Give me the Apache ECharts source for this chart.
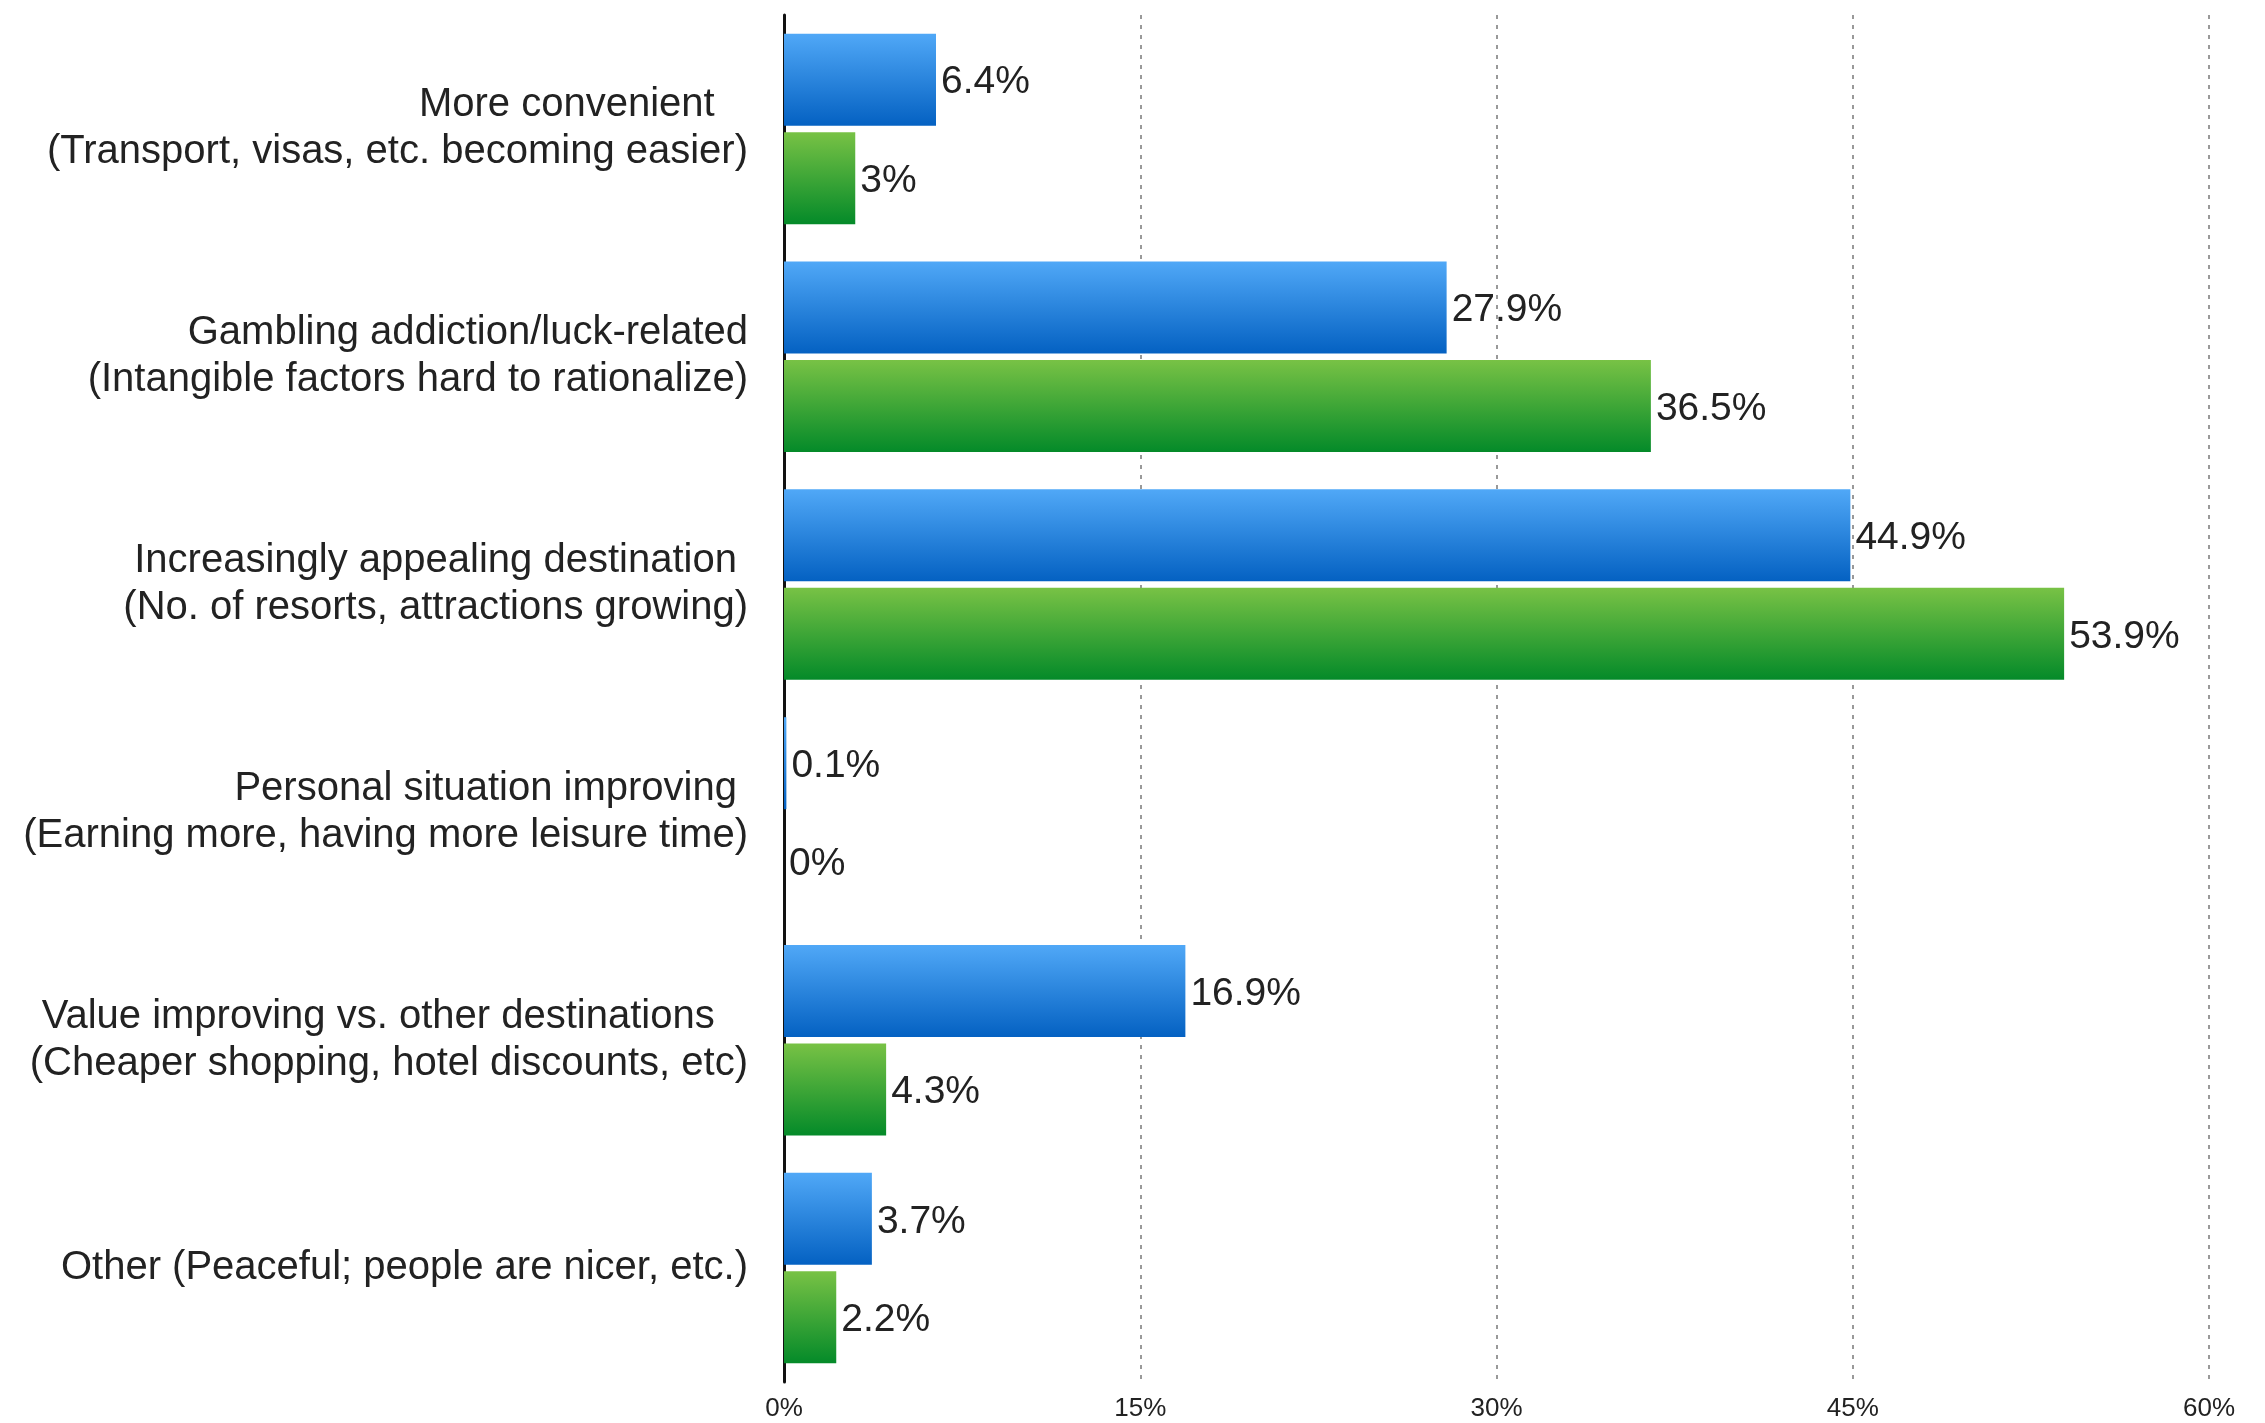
<!DOCTYPE html>
<html>
<head>
<meta charset="utf-8">
<script src="https://cdn.jsdelivr.net/npm/echarts@6/dist/echarts.min.js"></script>
<style>
html,body{margin:0;padding:0;background:#fff;}
#chart{width:2265px;height:1423px;}
</style>
</head>
<body>
<div id="chart"></div>
<script>
const categories = [
  "More convenient\u00a0\u00a0\u00a0\n(Transport, visas, etc. becoming easier)",
  "Gambling addiction/luck-related\n(Intangible factors hard to rationalize)",
  "Increasingly appealing destination\u00a0\n(No. of resorts, attractions growing)",
  "Personal situation improving\u00a0\n(Earning more, having more leisure time)",
  "Value improving vs. other destinations\u00a0\u00a0\u00a0\n(Cheaper shopping, hotel discounts, etc)",
  "Other (Peaceful; people are nicer, etc.)"
];
const seriesBlue = [6.4, 27.9, 44.9, 0.1, 16.9, 3.7];
const seriesGreen = [3, 36.5, 53.9, 0, 4.3, 2.2];
const xTicks = [0, 15, 30, 45, 60];

const FONT = "'Liberation Sans', Arial, sans-serif";
const chart = echarts.init(document.getElementById('chart'));
function grad(top, bottom){
  return new echarts.graphic.LinearGradient(0,0,0,1,[{offset:0,color:top},{offset:1,color:bottom}]);
}
const labelCfg = {
  show: true, position: 'right', distance: 5,
  formatter: p => p.value + '%',
  fontFamily: FONT, fontWeight: 'normal', fontSize: 39, color: '#222',
  offset: [0, 3]
};
chart.setOption({
  animation: false,
  backgroundColor: '#fff',
  grid: {left: 784, right: 56, top: 15, bottom: 41, containLabel: false},
  xAxis: {
    type: 'value', min: xTicks[0], max: xTicks[xTicks.length-1], interval: 15,
    axisLine: {show: false},
    axisTick: {show: false},
    splitLine: {show: true, lineStyle: {color: '#999', width: 2, type: [4, 6]}},
    axisLabel: {
      formatter: v => v + '%', fontFamily: FONT, fontSize: 26,
      color: '#222', margin: 14,
      showMinLabel: true, showMaxLabel: true
    }
  },
  yAxis: {
    type: 'category', data: categories, inverse: true,
    axisLine: {show: true, lineStyle: {color: '#111', width: 3}},
    axisTick: {show: false},
    axisLabel: {
      fontFamily: FONT, fontSize: 40, color: '#222',
      lineHeight: 47, margin: 36, align: 'right'
    }
  },
  series: [
    {
      type: 'bar', data: seriesBlue, barWidth: 92, barGap: '7%',
      itemStyle: {color: grad('#50a8f7', '#0461c2')},
      label: labelCfg, z: 3
    },
    {
      type: 'bar', data: seriesGreen, barWidth: 92,
      itemStyle: {color: grad('#78c245', '#048a29')},
      label: labelCfg, z: 3
    }
  ]
});
</script>
</body>
</html>
